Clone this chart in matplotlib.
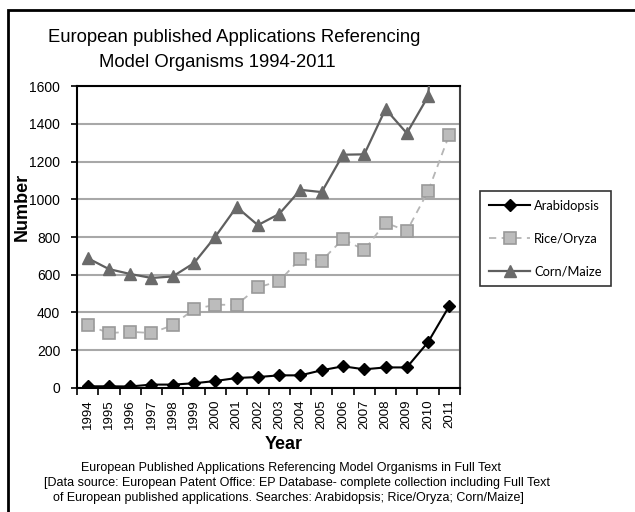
import numpy as np
import matplotlib
matplotlib.use("Agg")
import matplotlib.pyplot as plt
from matplotlib.patches import Rectangle

plt.rcParams['font.family'] = ['Liberation Sans', 'DejaVu Sans']

# data
years = [str(y) for y in range(1994, 2012)]
arabidopsis = [9, 9, 8, 18, 18, 25, 37, 53, 58, 67, 67, 94, 115, 99, 109, 109, 243, 435]
rice = [333, 291, 298, 291, 333, 418, 441, 441, 533, 566, 685, 675, 789, 731, 876, 832, 1042, 1343]
corn = [688, 630, 604, 583, 591, 662, 802, 959, 863, 922, 1050, 1038, 1236, 1238, 1478, 1350, 1545, 2900]

fig = plt.figure(figsize=(6.35, 5.12), dpi=100)
ax = fig.add_axes([0.1213, 0.2422, 0.6031, 0.5898])

x = np.arange(len(years))
ax.plot(x, arabidopsis, color='black', lw=1.5, marker='D', ms=6,
        mfc='black', mec='black', label='Arabidopsis', zorder=5)
ax.plot(x, rice, color='#b5b5b5', lw=1.3, ls=(0, (4, 3)), marker='s', ms=8,
        mfc='#bcbcbc', mec='#9a9a9a', mew=1.2, label='Rice/Oryza', zorder=4)
ax.plot(x, corn, color='#5f5f5f', lw=1.6, marker='^', ms=8,
        mfc='#6a6a6a', mec='#6a6a6a', label='Corn/Maize', zorder=4)

ax.set_xlim(-0.5, len(years) - 0.5)
ax.set_ylim(0, 1600)
ax.set_yticks(range(0, 1601, 200))
ax.yaxis.grid(True, color='#a8a8a8', lw=1.5)
ax.set_axisbelow(True)

# category axis: labels at centres, ticks on the boundaries
ax.set_xticks(x)
ax.set_xticklabels(years, rotation=90, fontsize=9.5)
ax.set_xticks(np.arange(-0.5, len(years), 1), minor=True)
ax.tick_params(axis='x', which='major', length=0, pad=8)
ax.tick_params(axis='x', which='minor', length=5, width=1.2, color='black')
ax.tick_params(axis='y', length=4, width=1.2, labelsize=10, pad=8)

for side in ['left', 'bottom', 'top']:
    ax.spines[side].set_color('black')
    ax.spines[side].set_linewidth(1.5)
ax.spines['right'].set_color('#404040')
ax.spines['right'].set_linewidth(1.5)

ax.set_ylabel('Number', fontsize=13, fontweight='bold')
ax.yaxis.set_label_coords(-0.12, 0.6)

leg = ax.legend(loc='center left', bbox_to_anchor=(1.035, 0.495), frameon=True,
                fancybox=False, edgecolor='black', handlelength=3.2,
                handletextpad=0.3, labelspacing=1.6, borderpad=0.7,
                prop={'family': 'Lato', 'size': 9.3})
leg.get_frame().set_linewidth(1.2)

# titles and captions
fig.text(0.369, 0.926, 'European published Applications Referencing', ha='center',
         va='center', fontsize=13.3)
fig.text(0.342, 0.878, 'Model Organisms 1994-2011', ha='center', va='center', fontsize=13.3)
fig.text(0.446, 0.131, 'Year', ha='center', va='center', fontsize=13, fontweight='bold')
fig.text(0.458, 0.086, 'European Published Applications Referencing Model Organisms in Full Text',
         ha='center', va='center', fontsize=9.0)
fig.text(0.467, 0.0566, '[Data source: European Patent Office: EP Database- complete collection including Full Text',
         ha='center', va='center', fontsize=9.0)
fig.text(0.455, 0.0273, 'of European published applications. Searches: Arabidopsis; Rice/Oryza; Corn/Maize]',
         ha='center', va='center', fontsize=9.0)

# outer frame, cut off at right and bottom like the reference
fig.patches.append(Rectangle((0.012, -0.05), 1.1, 1.03, transform=fig.transFigure,
                             fill=False, edgecolor='black', lw=2))

fig.savefig('out.png', dpi=100)
